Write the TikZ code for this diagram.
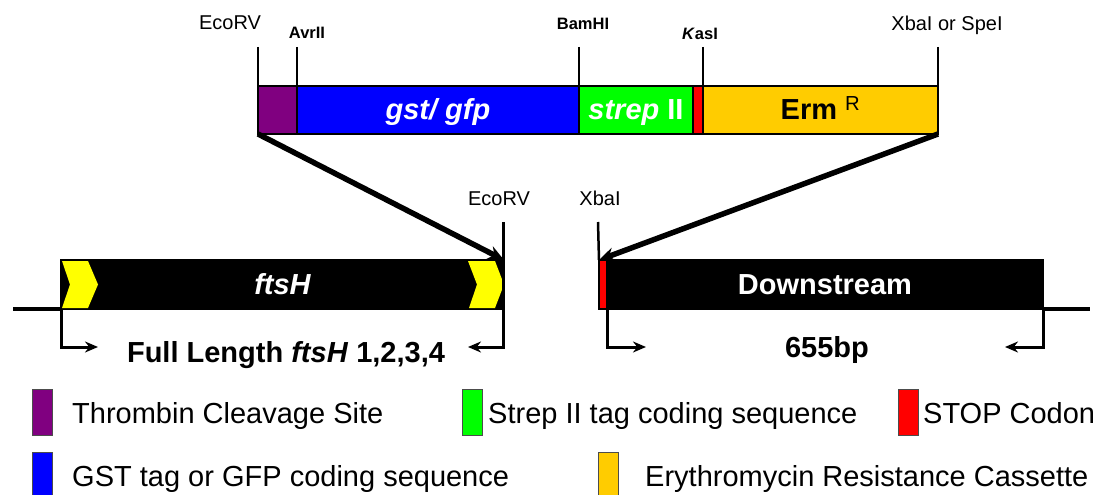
\documentclass[tikz,border=0pt]{standalone}
\usepackage{fontspec}
\setmainfont{Liberation Sans}
\usetikzlibrary{arrows.meta}
\definecolor{thrpurple}{HTML}{800080}
\definecolor{gstblue}{HTML}{0000FF}
\definecolor{strepgreen}{HTML}{00FF00}
\definecolor{stopred}{HTML}{FF0000}
\definecolor{ermgold}{HTML}{FFCC00}
\definecolor{chevyellow}{HTML}{FFFF00}
\newcommand{\bigfont}{\fontsize{29}{31}\selectfont}
\tikzset{
  seg/.style      = {draw=black,line width=1.2pt,inner sep=0pt,outer sep=0pt,
                     anchor=north west,minimum height=48pt,text height=20pt,
                     text depth=0pt,font=\bigfont\bfseries},
  gene/.style     = {seg,fill=black,minimum height=49pt,text=white},
  sitelbl/.style  = {font=\fontsize{16.5}{17}\selectfont\bfseries,inner sep=0pt,anchor=base},
  bigsite/.style  = {font=\fontsize{20}{21}\selectfont,inner sep=0pt,anchor=base},
  tickline/.style = {line width=2.5pt},
  bigarr/.style   = {-{Stealth[length=16pt,width=14pt]},line width=5.5pt},
  primer/.style   = {-{Stealth[length=13pt,width=11pt]},line width=3pt},
  chrom/.style    = {line width=3.5pt},
  legbox/.style   = {draw=black!70,line width=1pt,minimum width=20pt,
                     minimum height=46pt,inner sep=0pt},
  legtxt/.style   = {font=\bigfont,inner sep=0pt,anchor=base west}
}
\newcommand{\legitem}[6]{%
  \node[legbox,fill=#2] (#1box) at (#3,#5) {};
  \node[legtxt] (#1txt) at (#4,#5+11) {#6};
}

\begin{document}
\begin{tikzpicture}[x=1pt,y=-1pt]
  \useasboundingbox (0,0) rectangle (1104,495);
  % insert cassette
  \node[seg,fill=thrpurple,minimum width=39pt] (thr) at (258,86) {};
  \node[seg,fill=gstblue,minimum width=282pt,text=white] (gst) at (297,86) {\itshape gst/ gfp};
  \node[seg,fill=strepgreen,minimum width=114pt,text=white] (strep) at (579,86) {{\itshape strep} II};
  \node[seg,fill=stopred,minimum width=10pt] (stop) at (693,86) {};
  \node[seg,fill=ermgold,minimum width=235pt] (erm) at (703,86) {Erm~\textsuperscript{\mdseries R}};
  % restriction sites above the cassette
  \node[bigsite] (lEco) at (230,30) {EcoRV};
  \node[sitelbl] (lAvr) at (307,39) {AvrII};
  \node[sitelbl] (lBam) at (583,30) {BamHI};
  \node[sitelbl] (lKas) at (700,40) {\textit{K}asI};
  \node[bigsite] (lXS) at (947,31) {XbaI or SpeI};
  \coordinate (kEco) at (258,47);
  \coordinate (kAvr) at (297,47);
  \coordinate (kBam) at (579,47);
  \coordinate (kKas) at (703,47);
  \coordinate (kXS) at (938,47);
  \draw[tickline] (kEco) -- (thr.north west);
  \draw[tickline] (kAvr) -- (gst.north west);
  \draw[tickline] (kBam) -- (strep.north west);
  \draw[tickline] (kKas) -- (erm.north west);
  \draw[tickline] (kXS) -- (erm.north east);
  % chromosome
  \node[gene,minimum width=443pt] (ftsh) at (61,260) {\itshape ftsH};
  \fill[chevyellow] (62,261) -- (88,261) -- (98,284.5) -- (88,308) -- (62,308) -- (70,284.5) -- cycle;
  \fill[chevyellow] (468,261) -- (495,261) -- (504,284.5) -- (495,308) -- (469,308) -- (477,284.5) -- cycle;
  \node[seg,fill=stopred,minimum width=8pt,minimum height=49pt] (stop2) at (599,260) {};
  \node[gene,minimum width=436pt] (dwn) at (607,260) {Downstream};
  \coordinate (chL) at (13,309);
  \coordinate (chR) at (1090,309);
  \draw[chrom] (chL) -- (ftsh.south west);
  \draw[chrom] (dwn.south east) -- (chR);
  \node[bigsite] (lEco2) at (499,205) {EcoRV};
  \node[bigsite] (lXba) at (600,205) {XbaI};
  \coordinate (kEco2) at (503,222);
  \coordinate (kXba) at (598,222);
  \draw[tickline] (kXba) -- (stop2.north west);
  % insertion arrows
  \draw[bigarr] (thr.south west) -- (ftsh.north east);
  \draw[bigarr] (erm.south east) -- (stop2.north west);
  % primers
  \coordinate (p1) at (98,347);
  \coordinate (p2) at (468,347);
  \coordinate (p3) at (646,347);
  \coordinate (p4) at (1005,347);
  \draw[primer] (ftsh.south west) |- (p1);
  \draw[primer] (kEco2) |- (p2);
  \draw[primer] (dwn.south west) |- (p3);
  \draw[primer] (dwn.south east) |- (p4);
  \node[font=\bigfont\bfseries,inner sep=0pt,anchor=base] (flen) at (286,362) {Full Length \textit{ftsH} 1,2,3,4};
  \node[font=\bigfont\bfseries,inner sep=0pt,anchor=base] (bp) at (827,357) {655bp};
  % legend
  \legitem{thr}{thrpurple}{42}{72}{412}{Thrombin Cleavage Site}
  \legitem{strp}{strepgreen}{472}{488}{412}{Strep II tag coding sequence}
  \legitem{stp}{stopred}{908}{923}{412}{STOP Codon}
  \legitem{gstl}{gstblue}{42}{72}{475}{GST tag or GFP coding sequence}
  \legitem{erml}{ermgold}{608}{645}{475}{Erythromycin Resistance Cassette}
\end{tikzpicture}
\end{document}
